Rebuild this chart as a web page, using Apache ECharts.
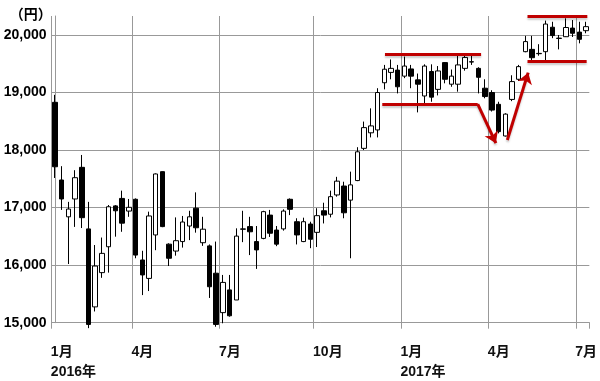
<!DOCTYPE html>
<html><head><meta charset="utf-8">
<script src="https://cdn.jsdelivr.net/npm/echarts@6/dist/echarts.min.js"></script>
<style>html,body{margin:0;padding:0;background:#fff}#c{width:600px;height:381px}</style>
</head><body><div id="c"></div>
<script>
// Weekly candles (week-ending Friday)
const weeks = [
 '2016/01/08','2016/01/15','2016/01/22','2016/01/29','2016/02/05','2016/02/12','2016/02/19','2016/02/26',
 '2016/03/04','2016/03/11','2016/03/18','2016/03/25','2016/04/01','2016/04/08','2016/04/15','2016/04/22',
 '2016/04/29','2016/05/06','2016/05/13','2016/05/20','2016/05/27','2016/06/03','2016/06/10','2016/06/17',
 '2016/06/24','2016/07/01','2016/07/08','2016/07/15','2016/07/22','2016/07/29','2016/08/05','2016/08/12',
 '2016/08/19','2016/08/26','2016/09/02','2016/09/09','2016/09/16','2016/09/23','2016/09/30','2016/10/07',
 '2016/10/14','2016/10/21','2016/10/28','2016/11/04','2016/11/11','2016/11/18','2016/11/25','2016/12/02',
 '2016/12/09','2016/12/16','2016/12/23','2016/12/30','2017/01/06','2017/01/13','2017/01/20','2017/01/27',
 '2017/02/03','2017/02/10','2017/02/17','2017/02/24','2017/03/03','2017/03/10','2017/03/17','2017/03/24',
 '2017/03/31','2017/04/07','2017/04/14','2017/04/21','2017/04/28','2017/05/05','2017/05/12','2017/05/19',
 '2017/05/26','2017/06/02','2017/06/09','2017/06/16','2017/06/23','2017/06/30','2017/07/07','2017/07/14'
];
const opens = [
 18830,17480,16840,17150,17700,16630,15275,15870,16320,17030,17160,16940,17145,16090,15770,16525,
 17625,16365,16245,16410,16680,16990,16390,16335,15860,15175,15570,15395,16630,16670,16410,16465,
 16870,16610,16630,17145,16755,16410,16715,16570,16945,16885,17220,17375,17130,17470,18030,18300,
 18350,19170,19350,19390,19285,19410,19220,18940,19365,19055,19520,19145,19145,19420,19535,19420,
 19075,19000,18795,18245,18880,19230,19710,19750,19680,19710,20135,19945,19970,20120,20050,20075
];
const closes = [
 17710,17150,16975,17520,16825,14970,15985,16205,17015,16945,16730,17005,16175,15830,16855,17585,
 16670,16120,16425,16750,16840,16650,16625,15625,14970,15700,15120,16505,16625,16580,16265,16930,
 16555,16365,16940,16970,16525,16755,16450,16860,16870,17190,17460,16910,17395,17970,18390,18420,
 19000,19405,19420,19100,19460,19285,19145,19460,18920,19375,19230,19285,19480,19610,19530,19265,
 18930,18695,18320,18625,19190,19450,19885,19605,19675,20190,19990,19940,20130,20030,19925,20145
];
const lows = [
 17515,16960,16020,16665,16645,14905,15195,15780,15870,16495,16580,16840,16120,15480,15550,16260,
 16660,15985,16165,16305,16435,16565,16335,15430,14930,14990,15105,15395,16400,16175,15935,16450,
 16490,16330,16600,16870,16360,16400,16295,16315,16725,16830,17190,16815,16120,17460,18000,18220,
 18220,19055,19230,18985,19250,19075,18655,18780,18840,18950,19160,19100,19015,19380,19480,18985,
 18900,18670,18290,18235,18850,19200,19700,19535,19640,19565,19945,19750,19965,19965,19855,20030
];
const highs = [
 18960,17720,17100,17650,17915,17100,16350,16480,17045,17045,17295,17150,17160,16250,16930,17595,
 17630,16380,16830,16855,16945,17265,16840,16360,16410,15830,15830,16640,16945,16840,16680,16945,
 16960,16680,16970,17160,16815,16825,16755,16990,17085,17295,17535,17450,17625,18050,18495,18725,
 19075,19480,19575,19480,19625,19480,19330,19490,19490,19460,19530,19400,19650,19650,19650,19440,
 19230,19040,18840,18640,19300,19480,19985,19985,19840,20250,20230,20000,20290,20260,20230,20230
];
// Red annotation segments, in (week index, yen)
const annotations = [
 {from:[49.1,19670], to:[63.4,19670], arrow:false},
 {from:[48.7,18800], to:[62.9,18800], arrow:false},
 {from:[62.9,18800], to:[65.6,18120], arrow:true},
 {from:[67.3,18175], to:[70.4,19345], arrow:true},
 {from:[70.3,20318], to:[79.2,20318], arrow:false},
 {from:[70.3,19548], to:[79.1,19548], arrow:false}
];

const month = (w) => +w.split('/')[1];
const year = (w) => w.split('/')[0];
const quarterIdx = weeks.map((w, i) => {
  const m = month(w), pm = i ? month(weeks[i - 1]) : -1;
  return ([1, 4, 7, 10].includes(m) && m !== pm) ? i : -1;
}).filter(i => i >= 0);
const isQ = (i) => quarterIdx.includes(i);

const FONT = "'Liberation Sans', Arial, 'Noto Sans CJK JP', sans-serif";
const GRID = '#999999';

const chart = echarts.init(document.getElementById('c'), null, {renderer: 'canvas'});
chart.setOption({
  animation: false,
  grid: {left: 51.5, right: 3.7, top: 16, bottom: 58.3},
  xAxis: [{
    type: 'category', data: weeks, boundaryGap: true,
    axisLine: {show: true, lineStyle: {color: GRID, width: 1}},
    axisTick: {show: true, interval: (i) => isQ(i), length: 6, lineStyle: {color: GRID}},
    splitLine: {show: true, interval: (i) => isQ(i), showMaxLine: false, lineStyle: {color: GRID, width: 1}},
    axisLabel: {
      interval: (i) => isQ(i), align: 'center', margin: 19,
      formatter: (v) => {
        const m = month(v);
        return '{t|' + m + '月}' + (m === 1 ? '\n{t|' + year(v) + '年}' : '');
      },
      rich: {t: {width: 8, align: 'left', fontSize: 14, fontWeight: 'bold', lineHeight: 20, color: '#111', fontFamily: FONT}}
    }
  }, {
    type: 'value', min: -0.5, max: 79.5, show: false
  }],
  yAxis: {
    type: 'value', min: 15000, max: 20330, interval: 1000,
    name: '（円）', nameLocation: 'end', nameGap: 1,
    nameTextStyle: {align: 'right', verticalAlign: 'middle', padding: [0, 3, 0, 0], fontSize: 14, fontWeight: 'bold', color: '#000', fontFamily: FONT},
    axisLine: {show: true, lineStyle: {color: GRID, width: 1}},
    axisTick: {show: false},
    splitLine: {show: true, showMaxLine: false, lineStyle: {color: GRID, width: 1}},
    axisLabel: {showMaxLabel: false, margin: 5, fontSize: 14, fontWeight: 'bold', color: '#000', fontFamily: FONT,
      formatter: (v) => v.toLocaleString('en-US')}
  },
  series: [{
    type: 'candlestick', xAxisIndex: 0, yAxisIndex: 0,
    data: weeks.map((_, i) => [opens[i], closes[i], lows[i], highs[i]]),
    barWidth: 5, clip: false, silent: true,
    itemStyle: {color: '#fff', color0: '#000', borderColor: '#000', borderColor0: '#000', borderColorDoji: '#000', borderWidth: 1},
    emphasis: {disabled: true}
  }, {
    type: 'line', xAxisIndex: 1, yAxisIndex: 0, data: [], silent: true,
    markLine: {
      silent: true, animation: false, symbol: ['none', 'none'], symbolSize: 11,
      label: {show: false}, emphasis: {disabled: true},
      lineStyle: {color: '#c00000', width: 3, type: 'solid', shadowColor: 'rgba(0,0,0,0.2)', shadowBlur: 2, shadowOffsetY: 2},
      data: annotations.map(a => [{coord: a.from}, {coord: a.to, symbol: a.arrow ? 'arrow' : 'none'}])
    }
  }]
});
</script>
</body></html>
